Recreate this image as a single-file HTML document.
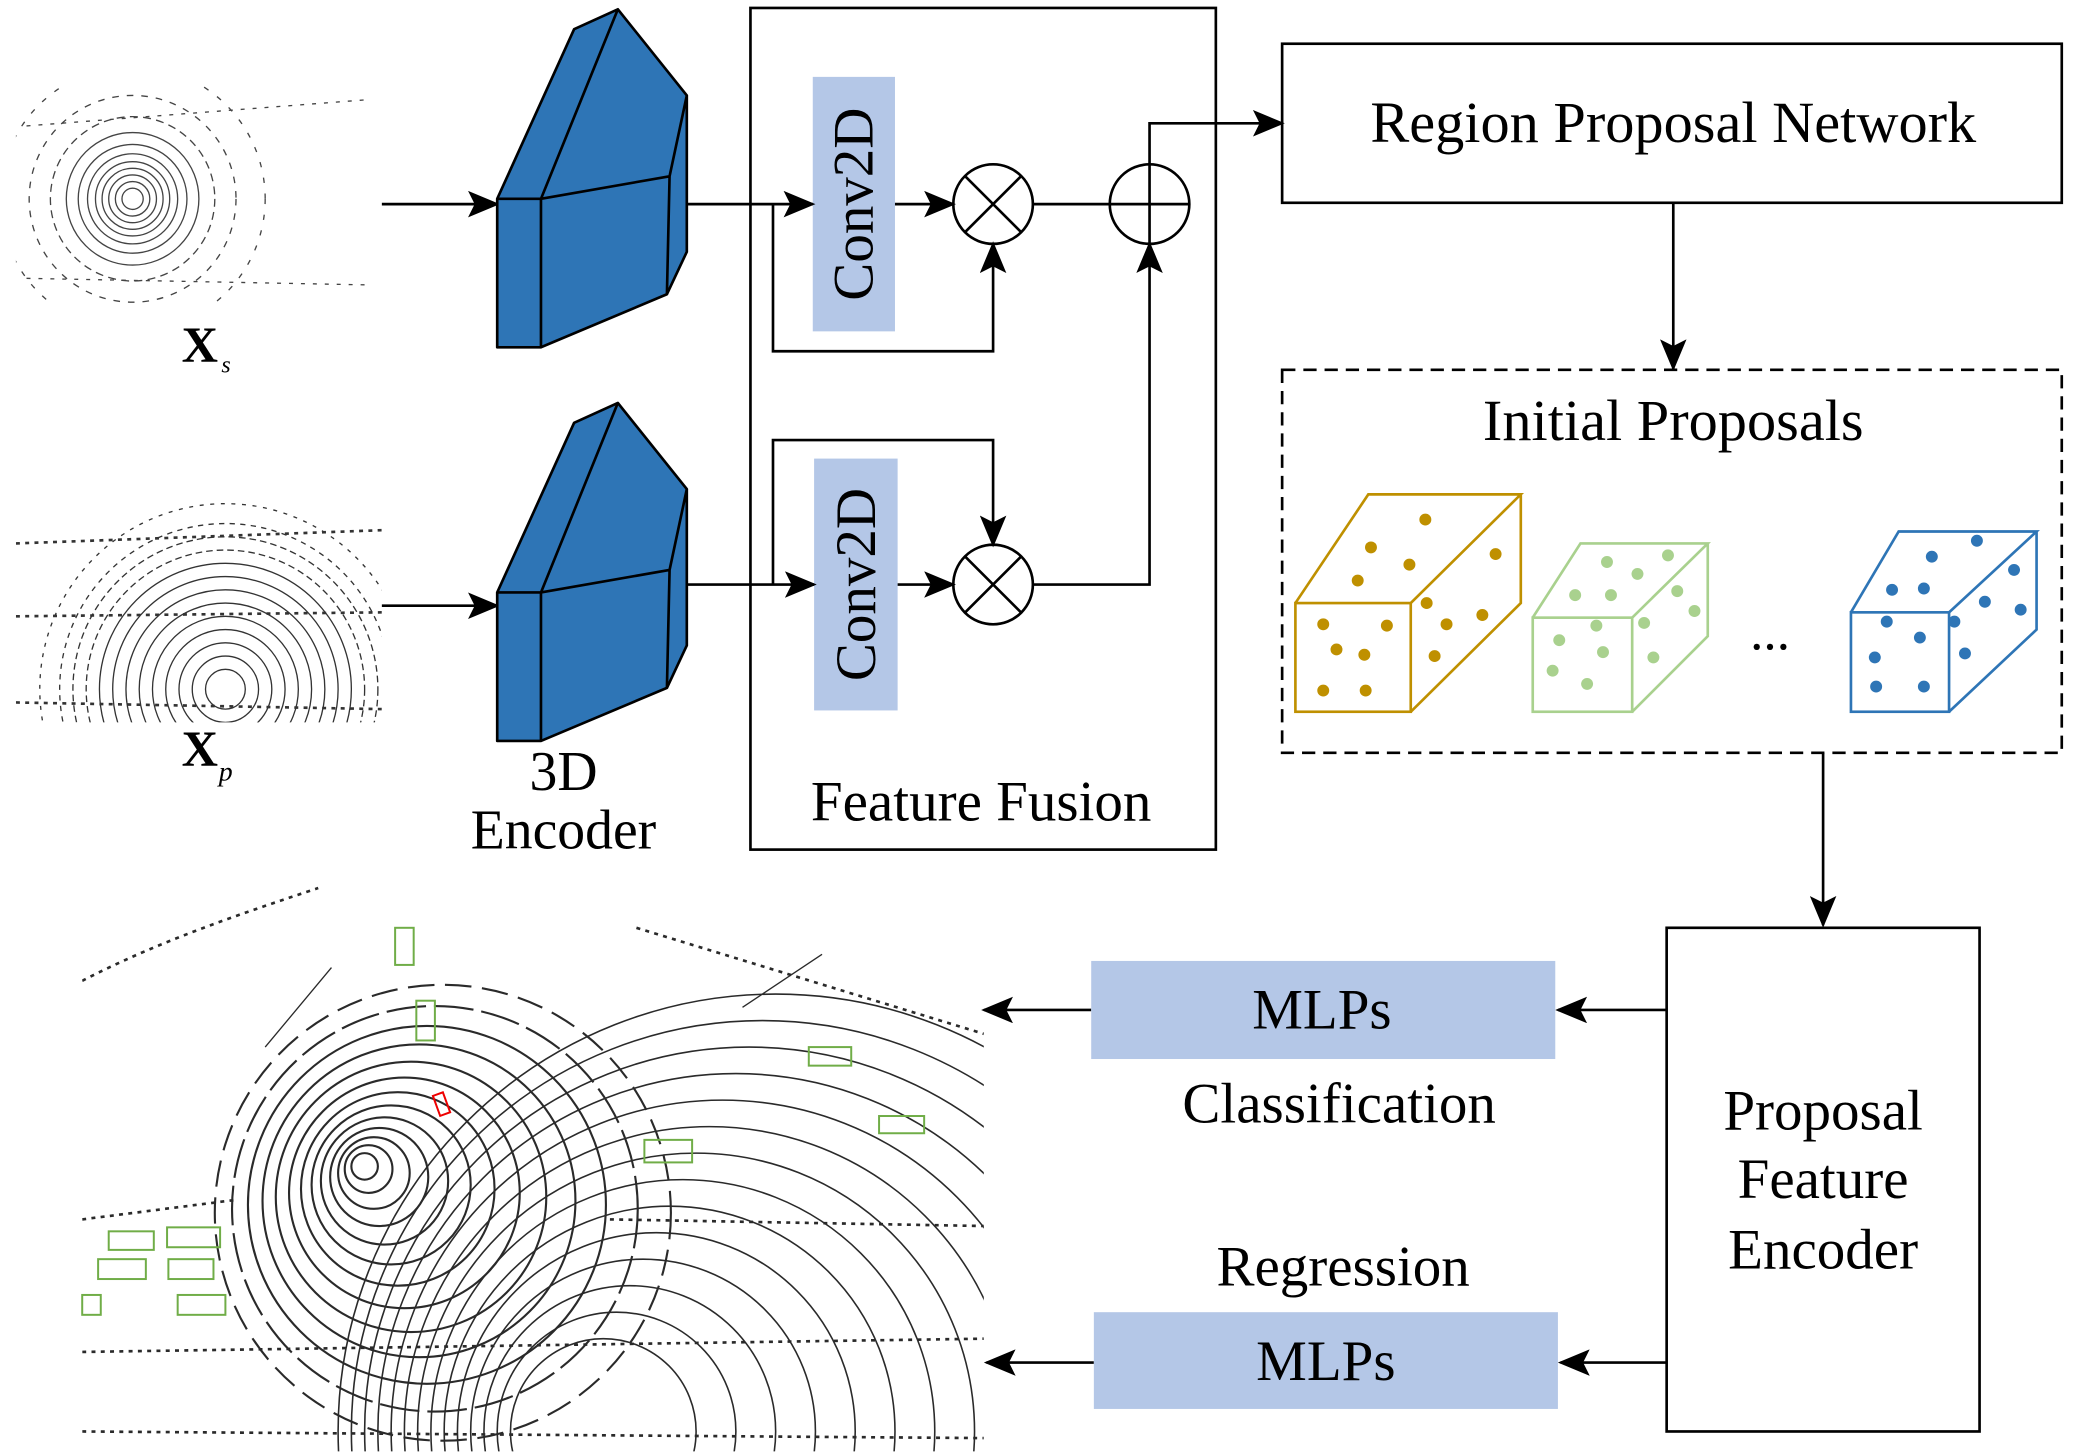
<!DOCTYPE html>
<html><head><meta charset="utf-8"><style>html,body{margin:0;padding:0;background:#fff;width:2079px;height:1454px;overflow:hidden}svg{display:block}</style></head>
<body>
<svg width="2079" height="1454" viewBox="0 0 1568 1097" preserveAspectRatio="none" xmlns="http://www.w3.org/2000/svg" font-family="'Liberation Serif', 'Times New Roman', serif">
<defs>
<marker id="b" markerWidth="24" markerHeight="20" refX="22" refY="10" orient="auto" markerUnits="userSpaceOnUse" viewBox="0 0 24 20"><path d="M0,0 L24,10 L0,20 L5,10z" fill="#000"/></marker>
<clipPath id="c1"><rect x="12" y="65" width="276" height="165"/></clipPath>
<clipPath id="c2"><rect x="12" y="378" width="276" height="167"/></clipPath>
<clipPath id="c3"><rect x="62" y="668" width="680" height="427"/></clipPath>
</defs>

<g clip-path="url(#c1)" fill="none" stroke="#444" stroke-width="1">
<circle cx="100" cy="150" r="8"/><circle cx="100" cy="150" r="13"/><circle cx="100" cy="150" r="18"/><circle cx="100" cy="150" r="23"/><circle cx="100" cy="150" r="28"/><circle cx="100" cy="150" r="34"/><circle cx="100" cy="150" r="41"/><circle cx="100" cy="150" r="50"/><circle cx="100" cy="150" r="62" stroke-dasharray="6 4"/><circle cx="100" cy="150" r="78" stroke-dasharray="5 6"/><circle cx="100" cy="150" r="100" stroke-dasharray="4 8"/>
<path d="M20 210 L280 215 M20 95 L280 75" stroke-dasharray="3 6"/>
</g>
<g clip-path="url(#c2)" fill="none" stroke="#333" stroke-width="1">
<circle cx="170" cy="520" r="15"/><circle cx="170" cy="520" r="25"/><circle cx="170" cy="520" r="35"/><circle cx="170" cy="520" r="45"/><circle cx="170" cy="520" r="55"/><circle cx="170" cy="520" r="65"/><circle cx="170" cy="520" r="75"/><circle cx="170" cy="520" r="85"/><circle cx="170" cy="520" r="95"/><circle cx="170" cy="520" r="105" stroke-dasharray="5 3"/><circle cx="170" cy="520" r="115" stroke-dasharray="5 3"/><circle cx="170" cy="520" r="125" stroke-dasharray="4 4"/><circle cx="170" cy="520" r="140" stroke-dasharray="3 5"/>
<path d="M12 465 L288 462 M12 530 L288 535 M12 410 L288 400" stroke-dasharray="3 4" stroke-width="2"/>
</g>
<text x="137" y="273" font-size="38" font-weight="bold">X</text><text x="167" y="281" font-size="18" font-style="italic">s</text>
<text x="137" y="578" font-size="38" font-weight="bold">X</text><text x="165" y="589" font-size="21" font-style="italic">p</text>

<g stroke="#000" stroke-width="2" fill="none">
<line x1="288" y1="154" x2="375" y2="154" marker-end="url(#b)"/>
<line x1="288" y1="457" x2="375" y2="457" marker-end="url(#b)"/>
</g>

<g fill="#2e75b6" stroke="#000" stroke-width="2" stroke-linejoin="round">
<polygon points="375,150 433,22 466,7 518,72 518,190 503,222 408,262 375,262"/>
<path d="M375,150 L408,150 L466,7 M408,150 L408,262 M408,150 L505,133 L518,72 M505,133 L503,222" fill="none"/>
<g transform="translate(0,297)">
<polygon points="375,150 433,22 466,7 518,72 518,190 503,222 408,262 375,262"/>
<path d="M375,150 L408,150 L466,7 M408,150 L408,262 M408,150 L505,133 L518,72 M505,133 L503,222" fill="none"/>
</g>
</g>
<text x="425" y="596" font-size="42" text-anchor="middle">3D</text>
<text x="425" y="640" font-size="42" text-anchor="middle">Encoder</text>

<rect x="566" y="6" width="351" height="635" fill="none" stroke="#000" stroke-width="2"/>
<text x="740" y="619" font-size="43" text-anchor="middle">Feature Fusion</text>
<rect x="613" y="58" width="62" height="192" fill="#b4c7e7"/>
<rect x="614" y="346" width="63" height="190" fill="#b4c7e7"/>
<text transform="translate(658,154) rotate(-90)" font-size="43" text-anchor="middle">Conv2D</text>
<text transform="translate(660,441) rotate(-90)" font-size="43" text-anchor="middle">Conv2D</text>

<g stroke="#000" stroke-width="2" fill="none">
<circle cx="749" cy="154" r="30"/><path d="M728,133 L770,175 M770,133 L728,175"/>
<circle cx="749" cy="441" r="30"/><path d="M728,420 L770,462 M770,420 L728,462"/>
<circle cx="867" cy="154" r="30"/><path d="M837,154 L897,154 M867,124 L867,184"/>
<line x1="518" y1="154" x2="613" y2="154" marker-end="url(#b)"/>
<polyline points="583,154 583,265 749,265 749,184" marker-end="url(#b)"/>
<line x1="675" y1="154" x2="719" y2="154" marker-end="url(#b)"/>
<line x1="779" y1="154" x2="837" y2="154"/>
<polyline points="867,124 867,93 967,93" marker-end="url(#b)"/>
<line x1="518" y1="441" x2="614" y2="441" marker-end="url(#b)"/>
<polyline points="583,441 583,332 749,332 749,411" marker-end="url(#b)"/>
<line x1="677" y1="441" x2="719" y2="441" marker-end="url(#b)"/>
<polyline points="779,441 867,441 867,184" marker-end="url(#b)"/>
<rect x="967" y="33" width="588" height="120"/>
<line x1="1262" y1="153" x2="1262" y2="278" marker-end="url(#b)"/>
<rect x="967" y="279" width="588" height="289" stroke-dasharray="10 6"/>
<line x1="1375" y1="568" x2="1375" y2="698" marker-end="url(#b)"/>
<rect x="1257" y="700" width="236" height="380"/>
<line x1="1257" y1="762" x2="1175" y2="762" marker-end="url(#b)"/>
<line x1="823" y1="762" x2="742" y2="762" marker-end="url(#b)"/>
<line x1="1257" y1="1028" x2="1177" y2="1028" marker-end="url(#b)"/>
<line x1="825" y1="1028" x2="744" y2="1028" marker-end="url(#b)"/>
</g>
<text x="1262" y="107" font-size="44" text-anchor="middle">Region Proposal Network</text>
<text x="1262" y="332" font-size="44" text-anchor="middle">Initial Proposals</text>

<g fill="none" stroke-width="2">
<g stroke="#bf9000"><rect x="977" y="455" width="87" height="82"/><path d="M977,455 L1032,373 L1147,373 L1064,455 M1147,373 L1147,455 L1064,537"/></g>
<g stroke="#a9d18e"><rect x="1156" y="466" width="75" height="71"/><path d="M1156,466 L1192,410 L1288,410 L1231,466 M1288,410 L1288,480 L1231,537"/></g>
<g stroke="#2e75b6"><rect x="1396" y="462" width="74" height="75"/><path d="M1396,462 L1432,401 L1536,401 L1470,462 M1536,401 L1536,475 L1470,537"/></g>
</g>
<g fill="#bf9000"><circle cx="1075" cy="392" r="4.5"/><circle cx="1034" cy="413" r="4.5"/><circle cx="1128" cy="418" r="4.5"/><circle cx="1024" cy="438" r="4.5"/><circle cx="1063" cy="426" r="4.5"/><circle cx="1076" cy="455" r="4.5"/><circle cx="998" cy="471" r="4.5"/><circle cx="1046" cy="472" r="4.5"/><circle cx="1091" cy="471" r="4.5"/><circle cx="1118" cy="464" r="4.5"/><circle cx="1008" cy="490" r="4.5"/><circle cx="1029" cy="494" r="4.5"/><circle cx="1082" cy="495" r="4.5"/><circle cx="998" cy="521" r="4.5"/><circle cx="1030" cy="521" r="4.5"/></g>
<g fill="#a9d18e"><circle cx="1212" cy="424" r="4.5"/><circle cx="1258" cy="419" r="4.5"/><circle cx="1235" cy="433" r="4.5"/><circle cx="1188" cy="449" r="4.5"/><circle cx="1215" cy="449" r="4.5"/><circle cx="1265" cy="446" r="4.5"/><circle cx="1278" cy="461" r="4.5"/><circle cx="1240" cy="470" r="4.5"/><circle cx="1204" cy="472" r="4.5"/><circle cx="1176" cy="483" r="4.5"/><circle cx="1209" cy="492" r="4.5"/><circle cx="1247" cy="496" r="4.5"/><circle cx="1171" cy="506" r="4.5"/><circle cx="1197" cy="516" r="4.5"/></g>
<g fill="#2e75b6"><circle cx="1491" cy="408" r="4.5"/><circle cx="1457" cy="420" r="4.5"/><circle cx="1519" cy="430" r="4.5"/><circle cx="1427" cy="445" r="4.5"/><circle cx="1451" cy="444" r="4.5"/><circle cx="1497" cy="454" r="4.5"/><circle cx="1524" cy="460" r="4.5"/><circle cx="1423" cy="469" r="4.5"/><circle cx="1474" cy="469" r="4.5"/><circle cx="1448" cy="481" r="4.5"/><circle cx="1414" cy="496" r="4.5"/><circle cx="1482" cy="493" r="4.5"/><circle cx="1415" cy="518" r="4.5"/><circle cx="1451" cy="518" r="4.5"/></g>
<text x="1335" y="490" font-size="40" text-anchor="middle">...</text>

<rect x="823" y="725" width="350" height="74" fill="#b4c7e7"/>
<rect x="825" y="990" width="350" height="73" fill="#b4c7e7"/>
<text x="997" y="776" font-size="43" text-anchor="middle">MLPs</text>
<text x="1000" y="1041" font-size="43" text-anchor="middle">MLPs</text>
<text x="1010" y="847" font-size="43" text-anchor="middle">Classification</text>
<text x="1013" y="970" font-size="43" text-anchor="middle">Regression</text>
<text x="1375" y="852" font-size="43" text-anchor="middle">Proposal</text>
<text x="1375" y="904" font-size="43" text-anchor="middle">Feature</text>
<text x="1375" y="957" font-size="43" text-anchor="middle">Encoder</text>

<g clip-path="url(#c3)" fill="none" stroke="#2a2a2a" stroke-width="1.5">
<g stroke-width="1.6">
<circle cx="275" cy="880" r="10"/><circle cx="278" cy="882" r="18"/><circle cx="282" cy="885" r="27"/><circle cx="286" cy="888" r="37"/><circle cx="290" cy="891" r="48"/><circle cx="295" cy="894" r="60"/><circle cx="300" cy="897" r="73"/><circle cx="305" cy="900" r="87"/><circle cx="310" cy="903" r="102"/><circle cx="316" cy="906" r="118"/><circle cx="322" cy="909" r="135"/><circle cx="328" cy="912" r="153" stroke-dasharray="30 6"/><circle cx="334" cy="915" r="172" stroke-dasharray="20 8"/>
</g>
<g stroke-width="1.2">
<circle cx="455" cy="1080" r="70"/><circle cx="465" cy="1080" r="90"/><circle cx="475" cy="1080" r="110"/><circle cx="485" cy="1080" r="130"/><circle cx="495" cy="1080" r="150"/><circle cx="505" cy="1080" r="170"/><circle cx="515" cy="1080" r="190"/><circle cx="525" cy="1080" r="210"/><circle cx="535" cy="1080" r="230"/><circle cx="545" cy="1080" r="250"/><circle cx="555" cy="1080" r="270"/><circle cx="565" cy="1080" r="290"/><circle cx="575" cy="1080" r="310"/><circle cx="585" cy="1080" r="330"/>
</g>
<path d="M62 740 C120 710 180 690 240 670 M62 920 L180 905 M62 1020 L742 1010 M62 1080 L742 1085 M460 920 L742 925 M480 700 L742 780" stroke-dasharray="3 4" stroke-width="2"/>
<path d="M200 790 L250 730 M560 760 L620 720" stroke-width="1"/>
</g>
<g fill="none" stroke="#70ad47" stroke-width="1.5">
<rect x="298" y="700" width="14" height="28"/><rect x="314" y="755" width="14" height="30"/><rect x="610" y="790" width="32" height="14"/><rect x="663" y="842" width="34" height="13"/><rect x="486" y="860" width="36" height="17"/><rect x="82" y="929" width="34" height="14"/><rect x="126" y="926" width="40" height="15"/><rect x="74" y="950" width="36" height="15"/><rect x="127" y="950" width="34" height="15"/><rect x="62" y="977" width="14" height="15"/><rect x="134" y="977" width="36" height="15"/>
</g>
<rect x="329" y="825" width="8" height="16" fill="none" stroke="#e00" stroke-width="1.5" transform="rotate(-20 333 833)"/>
</svg>
</body></html>
